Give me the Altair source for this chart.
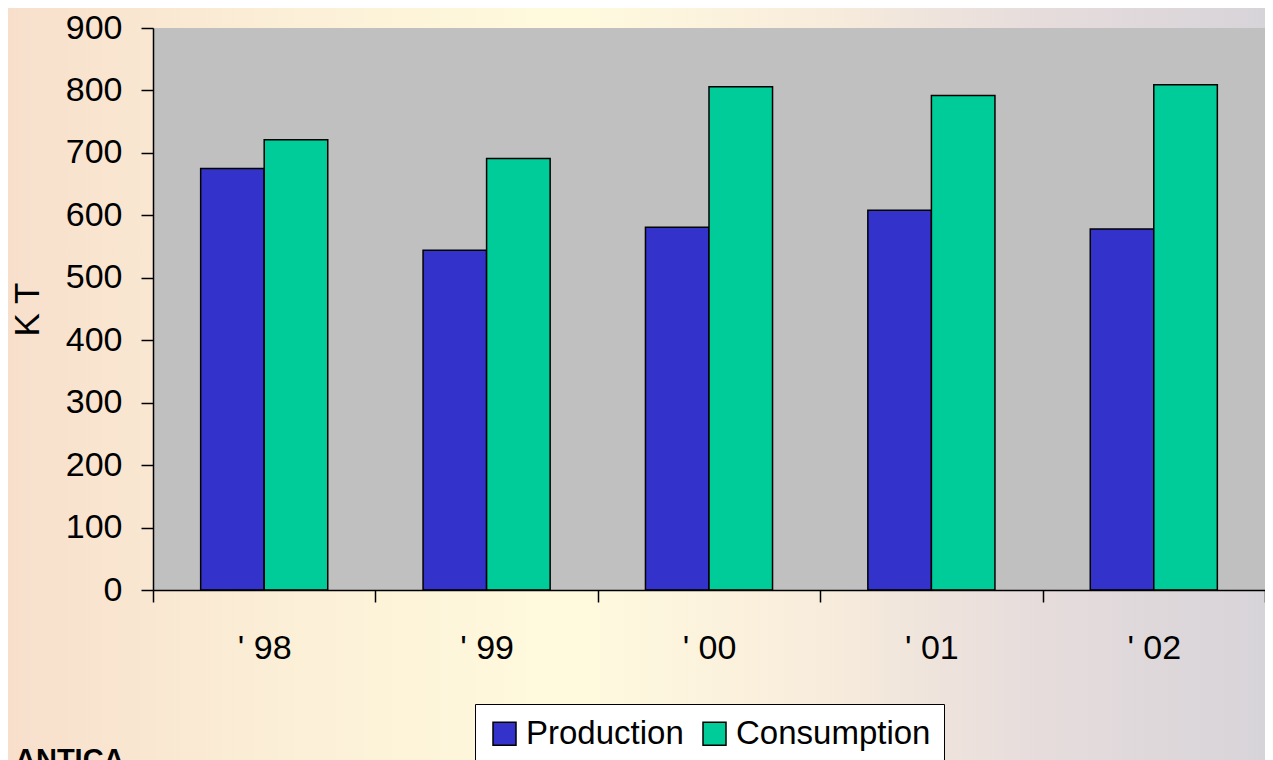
import altair as alt
import pandas as pd

# ---- data ----
years = ["' 98", "' 99", "' 00", "' 01", "' 02"]
series = ["Production", "Consumption"]
production = [675, 544, 581, 608, 578]
consumption = [721, 691, 806, 792, 809]
y_ticks = [0, 100, 200, 300, 400, 500, 600, 700, 800, 900]
colors = ["#3333cc", "#00cc99"]

rows = []
for i, yr in enumerate(years):
    rows.append({"year": yr, "series": series[0], "value": production[i]})
    rows.append({"year": yr, "series": series[1], "value": consumption[i]})
df = pd.DataFrame(rows)

W, H = 1112, 562
PAD = {"left": 145, "top": 20, "right": 0, "bottom": 170}
FONT = "Liberation Sans Narrow, Arial Narrow, Liberation Sans, Arial, sans-serif"
FS = 34

one = alt.Data(values=[{}])

# page-like backdrop (soft photo tones)
backdrop = alt.Chart(one).mark_rect(
    fill={
        "gradient": "linear", "x1": 0, "y1": 0, "x2": 1, "y2": 0,
        "stops": [
            {"offset": 0.0, "color": "#f7dfcc"},
            {"offset": 0.25, "color": "#fcf1d8"},
            {"offset": 0.45, "color": "#fffade"},
            {"offset": 0.65, "color": "#f8ecdc"},
            {"offset": 0.82, "color": "#e6dcdc"},
            {"offset": 1.0, "color": "#d7d4d9"},
        ],
    }
).encode(
    x=alt.value(-PAD["left"]), x2=alt.value(W + PAD["right"]),
    y=alt.value(-PAD["top"]), y2=alt.value(H + PAD["bottom"]),
)

plot_bg = alt.Chart(one).mark_rect(fill="#c0c0c0").encode(
    x=alt.value(0), x2=alt.value(W), y=alt.value(0), y2=alt.value(H)
)

bars = alt.Chart(df).mark_bar(stroke="black", strokeWidth=1.5).encode(
    x=alt.X(
        "year:N", sort=years,
        scale=alt.Scale(paddingInner=0, paddingOuter=0),
        axis=alt.Axis(
            title=None, labelAngle=0, tickBand="extent",
            labelFont=FONT, labelFontSize=FS, labelColor="black", labelPadding=29,
            tickSize=12, tickColor="black", tickWidth=1.5,
            domainColor="black", domainWidth=1.5, zindex=1,
        ),
    ),
    xOffset=alt.XOffset(
        "series:N", sort=series,
        scale=alt.Scale(paddingInner=0, paddingOuter=0.75),
    ),
    y=alt.Y(
        "value:Q",
        scale=alt.Scale(domain=[0, 900], nice=False),
        axis=alt.Axis(
            values=y_ticks, title="K T", grid=False,
            labelFont=FONT, labelFontSize=FS, labelColor="black", labelPadding=19,
            tickSize=12, tickColor="black", tickWidth=1.5,
            domainColor="black", domainWidth=1.5,
            titleFont=FONT, titleFontSize=35, titleFontWeight="normal",
            titleColor="black", titlePadding=20, zindex=1,
        ),
    ),
    color=alt.Color(
        "series:N", sort=series,
        scale=alt.Scale(domain=series, range=colors),
        legend=alt.Legend(
            title=None, orient="none", legendX=322, legendY=676,
            direction="horizontal", symbolType="square", symbolSize=529,
            symbolStrokeColor="black", symbolStrokeWidth=1.5,
            labelFont=FONT, labelFontSize=33, labelColor="black", labelLimit=400,
            labelOffset=5, columnPadding=14, padding=13,
            fillColor="white", strokeColor="black", zindex=1,
        ),
    ),
)

caption = alt.Chart(one).mark_text(
    text="ANTICA", font=FONT, fontSize=29, fontWeight="bold",
    align="left", baseline="alphabetic", color="black",
).encode(x=alt.value(15 - 153), y=alt.value(769 - 28))

chart = alt.layer(backdrop, plot_bg, bars, caption).properties(
    width=W, height=H, padding=PAD,
    autosize=alt.AutoSizeParams(type="none"),
    background="#fcf1d8",
).configure_view(strokeWidth=0)

chart.save("out.html", embed_options={"renderer": "svg", "actions": False})
